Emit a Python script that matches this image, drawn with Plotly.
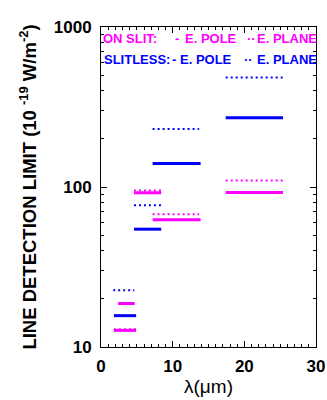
import plotly.graph_objects as go

# ---- data ----
on_slit_pole_start = [1.8, 2.4, 4.6, 7.2, 17.4]
on_slit_pole_end = [4.9, 4.7, 8.4, 13.9, 25.4]
on_slit_pole_val = [12.7, 18.7, 92.0, 62.5, 92.3]

on_slit_plane_start = [1.8, 4.6, 7.2, 17.4]
on_slit_plane_end = [4.9, 8.4, 13.7, 25.4]
on_slit_plane_val = [12.9, 95.0, 67.5, 110.0]

slitless_pole_start = [1.8, 4.6, 7.2, 17.4]
slitless_pole_end = [4.9, 8.4, 13.9, 25.4]
slitless_pole_val = [15.7, 54.5, 140.0, 271.0]

slitless_plane_start = [1.7, 4.6, 7.2, 17.4]
slitless_plane_end = [4.65, 8.4, 13.7, 25.4]
slitless_plane_val = [22.6, 77.0, 230.0, 483.0]

x_ticks = [0, 10, 20, 30]
y_ticks = [10, 100, 1000]

MAGENTA = "#ff00ff"
BLUE = "#0000ff"


def segs(starts, ends, vals):
    xs, ys = [], []
    for s, e, v in zip(starts, ends, vals):
        xs += [s, e, None]
        ys += [v, v, None]
    return xs, ys


fig = go.Figure()
for starts, ends, vals, color, dash, width in [
    (slitless_plane_start, slitless_plane_end, slitless_plane_val, BLUE, "2px,3px", 2),
    (on_slit_plane_start, on_slit_plane_end, on_slit_plane_val, MAGENTA, "2px,3px", 2),
    (slitless_pole_start, slitless_pole_end, slitless_pole_val, BLUE, "solid", 3),
    (on_slit_pole_start, on_slit_pole_end, on_slit_pole_val, MAGENTA, "solid", 3),
]:
    xs, ys = segs(starts, ends, vals)
    fig.add_trace(go.Scatter(x=xs, y=ys, mode="lines",
                             line=dict(color=color, dash=dash, width=width),
                             showlegend=False, hoverinfo="skip"))

FONT = "Liberation Sans"
tickfont = dict(family=FONT, size=17, color="black")

fig.update_xaxes(range=[0, 30], tickvals=x_ticks, ticktext=[f"<b>{t}</b>" for t in x_ticks],
                 ticks="inside", ticklen=6, tickcolor="black", mirror="ticks", automargin=False,
                 showline=True, linecolor="black", linewidth=1, showgrid=False, zeroline=False,
                 tickfont=tickfont, ticklabelstandoff=4,
                 minor=dict(ticks="inside", ticklen=3, dtick=1, tickcolor="black", showgrid=False),
                 title=dict(text="λ(μm)", font=dict(family=FONT, size=19, color="black"), standoff=4))
fig.update_yaxes(type="log", range=[1, 3], tickvals=y_ticks, ticktext=[f"<b>{t}</b>" for t in y_ticks],
                 ticks="inside", ticklen=6, tickcolor="black", mirror="ticks", automargin=False,
                 showline=True, linecolor="black", linewidth=1, showgrid=False, zeroline=False,
                 tickfont=tickfont, ticklabelstandoff=5,
                 minor=dict(ticks="inside", ticklen=3, dtick="D1", tickcolor="black", showgrid=False),
                 title=dict(text="<b>LINE DETECTION LIMIT (10 <sup>-19</sup> W/m<sup>-2</sup>)</b>",
                            font=dict(family=FONT, size=18.5, color="black"), standoff=12))

PL, PW = 100.5, 216.0
PB, PH = 346.7, 320.0


def px(x):
    return (x - PL) / PW


def py(y):
    return (PB - y) / PH


legend_items = [
    ("ON SLIT:", 101, 38, MAGENTA),
    ("-", 173, 38, MAGENTA),
    ("E. POLE", 183, 38, MAGENTA),
    ("··", 245, 38, MAGENTA),
    ("E. PLANE", 255.5, 38, MAGENTA),
    ("SLITLESS:", 101.5, 59, BLUE),
    ("-", 170, 59, BLUE),
    ("E. POLE", 178, 59, BLUE),
    ("··", 242, 59, BLUE),
    ("E. PLANE", 255.5, 59, BLUE),
]
for txt, x, y, c in legend_items:
    fig.add_annotation(text=f"<b>{txt}</b>", x=px(x), y=py(y), xref="paper", yref="paper",
                       xanchor="left", yanchor="middle", showarrow=False,
                       font=dict(family=FONT, size=13, color=c))

fig.update_layout(width=327, height=400, margin=dict(l=100.5, r=10.5, t=26.7, b=53.3, autoexpand=False),
                  plot_bgcolor="white", paper_bgcolor="white")

fig.write_html("out.html", config={"displayModeBar": False},
               post_script="document.body.style.margin='0px';")
